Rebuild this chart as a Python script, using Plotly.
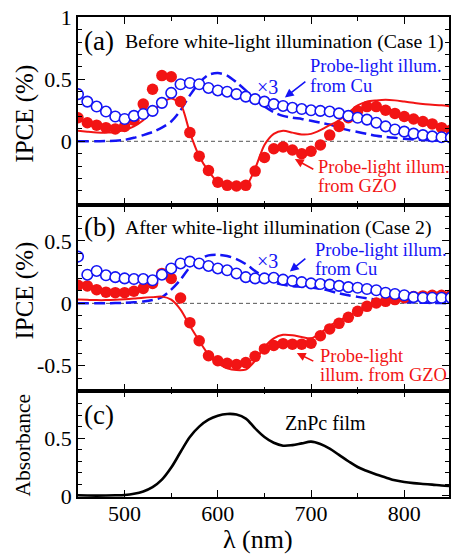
import plotly.graph_objects as go

# ---------------- data ----------------
wavelength = list(range(450, 851, 10))

cu_case1 = [0.38, 0.32, 0.28, 0.24, 0.20, 0.18, 0.205, 0.22, 0.245, 0.31,
            0.39, 0.46, 0.47, 0.46, 0.43, 0.41, 0.40, 0.38, 0.36, 0.34,
            0.32, 0.30, 0.285, 0.27, 0.26, 0.25, 0.245, 0.24, 0.225, 0.205,
            0.19, 0.175, 0.15, 0.12, 0.095, 0.078, 0.062, 0.05, 0.04, 0.033, 0.03]
gzo_case1 = [0.19, 0.15, 0.13, 0.11, 0.10, 0.12, 0.17, 0.30, 0.42, 0.53,
             0.52, 0.32, 0.07, -0.12, -0.235, -0.33, -0.355, -0.36, -0.355, -0.24,
             -0.13, -0.06, -0.045, -0.07, -0.10, -0.08, -0.03, 0.05, 0.12, 0.19,
             0.245, 0.28, 0.28, 0.25, 0.225, 0.20, 0.18, 0.16, 0.14, 0.11, 0.09]
gzo_fit_case1 = [0.085, 0.078, 0.072, 0.07, 0.075, 0.09, 0.12, 0.17, 0.24, 0.31,
                 0.345, 0.30, 0.07, -0.12, -0.24, -0.33, -0.36, -0.37, -0.36, -0.22,
                 -0.03, 0.06, 0.085, 0.07, 0.055, 0.06, 0.09, 0.13, 0.17, 0.23,
                 0.29, 0.32, 0.33, 0.335, 0.33, 0.32, 0.31, 0.30, 0.295, 0.29, 0.28]
cu_fit_case1 = [0.0, 0.0, 0.0, 0.002, 0.005, 0.012, 0.028, 0.05, 0.075, 0.11,
                0.16, 0.25, 0.37, 0.47, 0.535, 0.55, 0.53, 0.475, 0.41, 0.34,
                0.28, 0.235, 0.205, 0.19, 0.18, 0.165, 0.15, 0.135, 0.11, 0.09,
                0.075, 0.06, 0.045, 0.035, 0.028, 0.02, 0.015, 0.01, 0.008, 0.005, 0.003]

cu_case2 = [0.375, 0.23, 0.26, 0.225, 0.21, 0.20, 0.195, 0.195, 0.185, 0.23,
            0.28, 0.32, 0.335, 0.32, 0.30, 0.28, 0.265, 0.24, 0.21, 0.20,
            0.20, 0.205, 0.19, 0.18, 0.17, 0.16, 0.155, 0.15, 0.14, 0.13,
            0.125, 0.115, 0.105, 0.085, 0.075, 0.065, 0.05, 0.045, 0.045, 0.045, 0.045]
gzo_case2 = [0.145, 0.14, 0.11, 0.09, 0.086, 0.086, 0.097, 0.12, 0.16, 0.24,
             0.20, 0.043, -0.155, -0.30, -0.42, -0.46, -0.48, -0.49, -0.475, -0.425,
             -0.365, -0.337, -0.323, -0.327, -0.327, -0.32, -0.26, -0.205, -0.16, -0.112,
             -0.064, -0.024, 0.003, 0.016, 0.03, 0.045, 0.055, 0.06, 0.065, 0.065, 0.065]
gzo_fit_case2 = [0.03, 0.028, 0.026, 0.026, 0.028, 0.032, 0.038, 0.045, 0.05, 0.054,
                 0.03, -0.05, -0.18, -0.30, -0.41, -0.48, -0.52, -0.535, -0.53, -0.46,
                 -0.35, -0.28, -0.252, -0.255, -0.27, -0.28, -0.24, -0.18, -0.14, -0.10,
                 -0.06, -0.02, 0.01, 0.03, 0.045, 0.055, 0.06, 0.065, 0.068, 0.07, 0.07]
cu_fit_case2 = [0.0, 0.0, 0.0, 0.0, 0.002, 0.004, 0.008, 0.015, 0.027, 0.05,
                0.11, 0.19, 0.29, 0.35, 0.385, 0.39, 0.38, 0.355, 0.315, 0.26,
                0.21, 0.17, 0.15, 0.138, 0.133, 0.128, 0.117, 0.10, 0.08, 0.065,
                0.052, 0.04, 0.03, 0.02, 0.015, 0.01, 0.007, 0.005, 0.003, 0.002, 0.001]

absorbance = [0.005, 0.003, 0.002, 0.003, 0.005, 0.008, 0.018, 0.038, 0.075, 0.14,
              0.245, 0.38, 0.51, 0.60, 0.66, 0.695, 0.71, 0.705, 0.67, 0.585,
              0.51, 0.46, 0.435, 0.44, 0.455, 0.47, 0.45, 0.41, 0.355, 0.30,
              0.25, 0.215, 0.185, 0.16, 0.135, 0.12, 0.11, 0.103, 0.097, 0.09, 0.085]

# ---------------- styling ----------------
W, H = 456, 556
L, R, T, B = 78, 5, 14, 59
PW, PH = W - L - R, H - T - B
FONT = "Liberation Serif, Times New Roman, serif"
BLUE = "#1414f5"
RED = "#f21414"


def px(x):
    return (x - L) / PW


def py(y):
    return (H - B - y) / PH


ab_border, bc_border = 203, 390
dom_a = [py(ab_border), 1.0]
dom_b = [py(bc_border), py(ab_border)]
dom_c = [0.0, py(bc_border)]

fig = go.Figure()


def add_panel(xa, ya, dashed, fit, gzo, cu):
    fig.add_trace(go.Scatter(x=wavelength, y=dashed, mode="lines", xaxis=xa, yaxis=ya,
                             line=dict(color=BLUE, width=2.5, dash="11px,5px", shape="spline",
                                       smoothing=0.8),
                             showlegend=False))
    fig.add_trace(go.Scatter(x=wavelength, y=fit, mode="lines", xaxis=xa, yaxis=ya,
                             line=dict(color=RED, width=2, shape="spline", smoothing=0.8),
                             showlegend=False))
    fig.add_trace(go.Scatter(x=wavelength, y=gzo, mode="markers", xaxis=xa, yaxis=ya,
                             marker=dict(color=RED, size=11.5, line=dict(width=0)),
                             showlegend=False))
    fig.add_trace(go.Scatter(x=wavelength, y=cu, mode="markers", xaxis=xa, yaxis=ya,
                             marker=dict(color="white", size=10.5,
                                         line=dict(color=BLUE, width=1.6)),
                             showlegend=False))


add_panel("x", "y", cu_fit_case1, gzo_fit_case1, gzo_case1, cu_case1)
add_panel("x2", "y2", cu_fit_case2, gzo_fit_case2, gzo_case2, cu_case2)
fig.add_trace(go.Scatter(x=wavelength, y=absorbance, mode="lines", xaxis="x3", yaxis="y3",
                         line=dict(color="black", width=2.6, shape="spline"),
                         showlegend=False))

tickfont = dict(family=FONT, size=22, color="black")

xcommon = dict(range=[450, 848], tickmode="array", tickvals=[500, 600, 700, 800],
               ticktext=["500", "600", "700", "800"],
               ticks="inside", ticklen=7, tickwidth=1.3, tickcolor="black",
               showline=True, linecolor="black", linewidth=1.5, mirror="allticks",
               showgrid=False, zeroline=False,
               minor=dict(tickvals=[550, 650, 750], ticks="inside", ticklen=4,
                          tickwidth=1.2, tickcolor="black", showgrid=False),
               tickfont=tickfont)

ycommon = dict(ticks="inside", ticklen=7, tickwidth=1.3, tickcolor="black",
               showline=True, linecolor="black", linewidth=1.5, mirror="allticks",
               showgrid=False, zeroline=False, tickmode="array",
               minor=dict(dtick=0.1, tick0=0, ticks="inside", ticklen=4, tickwidth=1.2,
                          tickcolor="black", showgrid=False),
               tickfont=tickfont)

fig.update_layout(
    width=W, height=H,
    margin=dict(l=L, r=R, t=T, b=B),
    paper_bgcolor="white", plot_bgcolor="white",
    font=dict(family=FONT, size=20, color="black"),
    showlegend=False,
    xaxis=dict(xcommon, anchor="y", showticklabels=False),
    xaxis2=dict(xcommon, anchor="y2", showticklabels=False, matches="x"),
    xaxis3=dict(xcommon, anchor="y3", showticklabels=True, matches="x",
                ticklabelstandoff=-4),
    yaxis=dict(ycommon, domain=dom_a, anchor="x", range=[-0.512, 1.002],
               tickvals=[-0.5, 0, 0.5, 1], ticktext=["", "0", "0.5", "1"]),
    yaxis2=dict(ycommon, domain=dom_b, anchor="x2", range=[-0.70, 0.79],
                tickvals=[-0.5, 0, 0.5], ticktext=["-0.5", "0", "0.5"]),
    yaxis3=dict(ycommon, domain=dom_c, anchor="x3", range=[-0.01, 0.912],
                tickvals=[0, 0.5], ticktext=["0", "0.5"]),
)

for yref, xref in (("y", "x"), ("y2", "x2")):
    fig.add_shape(type="line", xref=f"{xref} domain", yref=yref, x0=0, x1=1, y0=0, y1=0,
                  line=dict(color="#555555", width=1, dash="4px,3px"), layer="below")

ann = []


def text(x, y, s, size, color="black", xanchor="left", angle=0):
    ann.append(dict(x=px(x), y=py(y), xref="paper", yref="paper", text=s, showarrow=False,
                    xanchor=xanchor, yanchor="middle", textangle=angle,
                    font=dict(family=FONT, size=size, color=color)))


def arrow(hx, hy, tx, ty, color):
    ann.append(dict(x=px(hx), y=py(hy), xref="paper", yref="paper", text="",
                    showarrow=True, ax=tx - hx, ay=ty - hy, axref="pixel", ayref="pixel",
                    arrowhead=2, arrowsize=1.1, arrowwidth=1.6, arrowcolor=color,
                    standoff=0, startstandoff=0))


text(82, 38, "(a)", 27)
text(123, 39, "Before white-light illumination (Case 1)", 19.8)
text(256, 84, "×3", 20, BLUE)
text(309, 63, "Probe-light illum.", 18.5, BLUE)
text(309, 83, "from Cu", 18.5, BLUE)
arrow(286, 95, 308, 78, BLUE)
text(317, 165, "Probe-light illum.", 18.5, RED)
text(317, 184, "from GZO", 18.5, RED)
arrow(296, 157, 316, 168, RED)

text(82, 225, "(b)", 27)
text(123, 226, "After white-light illumination (Case 2)", 19.8)
text(256, 260, "×3", 20, BLUE)
text(314, 248, "Probe-light illum.", 18.5, BLUE)
text(314, 268, "from Cu", 18.5, BLUE)
arrow(291, 270, 308, 256, BLUE)
text(319, 355, "Probe-light", 18.5, RED)
text(319, 374, "illum. from GZO", 18.5, RED)
arrow(298, 352, 316, 361, RED)

text(82, 414, "(c)", 27)
text(284, 423, "ZnPc film", 20)

text(25, 111, "IPCE (%)", 25, xanchor="center", angle=-90)
text(25, 289, "IPCE (%)", 25, xanchor="center", angle=-90)
text(23, 445, "Absorbance", 21.5, xanchor="center", angle=-90)
text(259, 540, "λ (nm)", 26, xanchor="center")

fig.update_layout(annotations=ann)

fig.write_html("out.html")
